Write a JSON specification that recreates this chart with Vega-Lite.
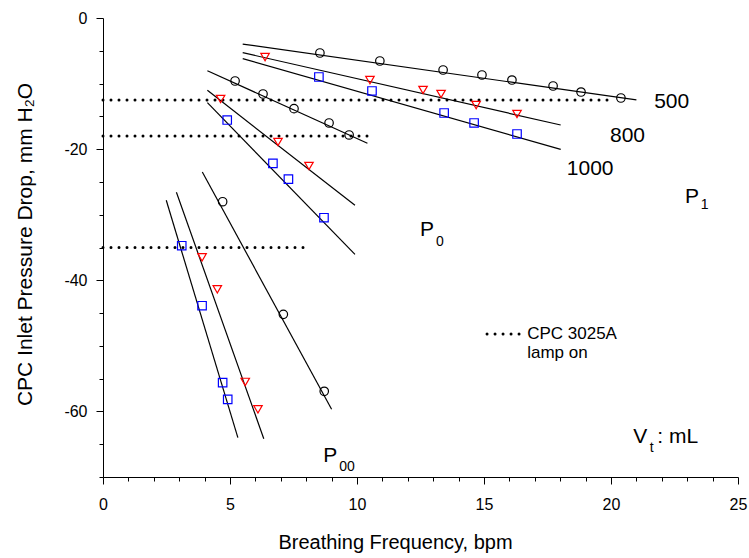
{
  "$schema": "https://vega.github.io/schema/vega-lite/v6.json",
  "width": 635,
  "height": 459,
  "autosize": {"type": "none"},
  "padding": {"left": 103, "top": 18, "right": 11, "bottom": 81},
  "background": "white",
  "config": {
    "view": {"stroke": null},
    "font": "Liberation Sans, Arial, Helvetica, sans-serif",
    "axis": {
      "grid": false,
      "domainColor": "black",
      "domainWidth": 1,
      "tickColor": "black",
      "tickWidth": 1,
      "labelColor": "black",
      "labelFontSize": 16,
      "labelOverlap": false,
      "labelFlush": false,
      "labelBound": false,
      "titleColor": "black",
      "titleFontSize": 21,
      "titleFontWeight": "normal"
    }
  },
  "datasets": {
    "fits": [
      {"grp": "P1_500", "x": 5.5, "y": -3.97}, {"grp": "P1_500", "x": 21.0, "y": -12.5},
      {"grp": "P1_800", "x": 5.5, "y": -5.29}, {"grp": "P1_800", "x": 18.02, "y": -16.32},
      {"grp": "P1_1000", "x": 5.5, "y": -6.2}, {"grp": "P1_1000", "x": 18.02, "y": -20.03},
      {"grp": "P0_500", "x": 4.11, "y": -8.04}, {"grp": "P0_500", "x": 10.41, "y": -19.1},
      {"grp": "P0_800", "x": 4.11, "y": -11.03}, {"grp": "P0_800", "x": 9.92, "y": -28.57},
      {"grp": "P0_1000", "x": 4.11, "y": -12.91}, {"grp": "P0_1000", "x": 9.92, "y": -36.04},
      {"grp": "P00_500", "x": 3.91, "y": -23.49}, {"grp": "P00_500", "x": 9.0, "y": -59.68},
      {"grp": "P00_800", "x": 2.89, "y": -26.58}, {"grp": "P00_800", "x": 6.33, "y": -64.16},
      {"grp": "P00_1000", "x": 2.49, "y": -27.8}, {"grp": "P00_1000", "x": 5.31, "y": -64.0}
    ],
    "dots": [
      {"grp": "d1", "x": 0, "y": -12.5}, {"grp": "d1", "x": 20.0, "y": -12.5},
      {"grp": "d2", "x": 0, "y": -18.0}, {"grp": "d2", "x": 10.7, "y": -18.0},
      {"grp": "d3", "x": 0, "y": -35.0}, {"grp": "d3", "x": 7.9, "y": -35.0},
      {"grp": "legend", "x": 15.12, "y": -48.2}, {"grp": "legend", "x": 16.46, "y": -48.2}
    ],
    "points": [
      {"Vt": "500", "x": 8.54, "y": -5.34}, {"Vt": "500", "x": 10.9, "y": -6.56},
      {"Vt": "500", "x": 13.39, "y": -7.93}, {"Vt": "500", "x": 14.92, "y": -8.69},
      {"Vt": "500", "x": 16.1, "y": -9.46}, {"Vt": "500", "x": 17.72, "y": -10.37},
      {"Vt": "500", "x": 18.82, "y": -11.29}, {"Vt": "500", "x": 20.39, "y": -12.2},
      {"Vt": "500", "x": 5.2, "y": -9.61}, {"Vt": "500", "x": 6.3, "y": -11.59},
      {"Vt": "500", "x": 7.52, "y": -13.83}, {"Vt": "500", "x": 8.9, "y": -16.01},
      {"Vt": "500", "x": 9.69, "y": -17.84},
      {"Vt": "500", "x": 4.71, "y": -28.02}, {"Vt": "500", "x": 7.1, "y": -45.19},
      {"Vt": "500", "x": 8.71, "y": -56.93},
      {"Vt": "800", "x": 6.38, "y": -5.95}, {"Vt": "800", "x": 10.51, "y": -9.46},
      {"Vt": "800", "x": 12.6, "y": -10.98}, {"Vt": "800", "x": 13.31, "y": -11.59},
      {"Vt": "800", "x": 14.69, "y": -13.27}, {"Vt": "800", "x": 16.3, "y": -14.64},
      {"Vt": "800", "x": 4.63, "y": -12.35}, {"Vt": "800", "x": 6.89, "y": -18.91},
      {"Vt": "800", "x": 8.11, "y": -22.57},
      {"Vt": "800", "x": 3.9, "y": -36.5}, {"Vt": "800", "x": 4.5, "y": -41.38},
      {"Vt": "800", "x": 5.6, "y": -55.5}, {"Vt": "800", "x": 6.1, "y": -59.67},
      {"Vt": "1000", "x": 8.5, "y": -9.0}, {"Vt": "1000", "x": 10.59, "y": -11.13},
      {"Vt": "1000", "x": 13.43, "y": -14.49}, {"Vt": "1000", "x": 14.61, "y": -16.01},
      {"Vt": "1000", "x": 16.3, "y": -17.69},
      {"Vt": "1000", "x": 4.89, "y": -15.56}, {"Vt": "1000", "x": 6.69, "y": -22.16},
      {"Vt": "1000", "x": 7.3, "y": -24.58}, {"Vt": "1000", "x": 8.7, "y": -30.46},
      {"Vt": "1000", "x": 3.1, "y": -34.73}, {"Vt": "1000", "x": 3.9, "y": -43.88},
      {"Vt": "1000", "x": 4.71, "y": -55.62}, {"Vt": "1000", "x": 4.91, "y": -58.15}
    ],
    "labels": [
      {"kind": "big", "text": "500", "x": 21.7, "y": -12.76},
      {"kind": "big", "text": "800", "x": 19.96, "y": -18.0},
      {"kind": "big", "text": "1000", "x": 18.26, "y": -23.08},
      {"kind": "big", "text": "P", "x": 22.91, "y": -27.25},
      {"kind": "sub", "text": "1", "x": 23.53, "y": -28.52},
      {"kind": "big", "text": "P", "x": 12.48, "y": -32.33},
      {"kind": "sub", "text": "0", "x": 13.11, "y": -34.1},
      {"kind": "big", "text": "P", "x": 8.67, "y": -66.75},
      {"kind": "sub", "text": "00", "x": 9.3, "y": -68.43},
      {"kind": "big", "text": "V", "x": 20.88, "y": -63.85},
      {"kind": "sub", "text": "t", "x": 21.53, "y": -65.6},
      {"kind": "big", "text": ": mL", "x": 21.82, "y": -63.85},
      {"kind": "legend", "text": "CPC 3025A", "x": 16.7, "y": -48.2},
      {"kind": "legend", "text": "lamp on", "x": 16.7, "y": -51.1}
    ]
  },
  "encoding": {
    "x": {
      "field": "x",
      "type": "quantitative",
      "scale": {"domain": [0, 25], "nice": false, "zero": false},
      "axis": {
        "values": [0,1,2,3,4,5,6,7,8,9,10,11,12,13,14,15,16,17,18,19,20,21,22,23,24,25],
        "labelExpr": "datum.value % 5 === 0 ? '' + datum.value : ''",
        "tickSize": {"condition": {"test": "datum.value % 5 === 0", "value": 7}, "value": 4},
        "labelPadding": 12,
        "title": "Breathing Frequency, bpm",
        "titleFontSize": 20,
        "titleAlign": "center",
        "titleBaseline": "middle",
        "titleX": 292,
        "titleY": 65
      }
    },
    "y": {
      "field": "y",
      "type": "quantitative",
      "scale": {"domain": [-70, 0], "nice": false, "zero": false},
      "axis": {
        "values": [0,-5,-10,-15,-20,-25,-30,-35,-40,-45,-50,-55,-60,-65,-70],
        "labelExpr": "datum.value % 20 === 0 ? '' + datum.value : ''",
        "tickSize": {"condition": {"test": "datum.value % 20 === 0", "value": 7}, "value": 4},
        "labelPadding": 9,
        "title": "CPC Inlet Pressure Drop, mm H₂O",
        "titleAngle": -90,
        "titleAlign": "center",
        "titleBaseline": "middle",
        "titleX": -78,
        "titleY": 226
      }
    }
  },
  "layer": [
    {
      "data": {"name": "fits"},
      "mark": {"type": "line", "color": "black", "strokeWidth": 1.2},
      "encoding": {"detail": {"field": "grp", "type": "nominal"}}
    },
    {
      "data": {"name": "dots"},
      "mark": {"type": "line", "color": "black", "strokeWidth": 3, "strokeDash": [0, 8], "strokeCap": "round"},
      "encoding": {"detail": {"field": "grp", "type": "nominal"}}
    },
    {
      "data": {"name": "points"},
      "mark": {"type": "point", "filled": false, "size": 72, "strokeWidth": 1.2, "opacity": 1},
      "encoding": {
        "shape": {"field": "Vt", "type": "nominal", "scale": {"domain": ["500", "800", "1000"], "range": ["circle", "triangle-down", "square"]}, "legend": null},
        "color": {"field": "Vt", "type": "nominal", "scale": {"domain": ["500", "800", "1000"], "range": ["black", "#ff0000", "#0000ff"]}, "legend": null}
      }
    },
    {
      "data": {"name": "labels"},
      "transform": [{"filter": "datum.kind === 'big'"}],
      "mark": {"type": "text", "align": "left", "baseline": "middle", "fontSize": 21, "color": "black"},
      "encoding": {"text": {"field": "text", "type": "nominal"}}
    },
    {
      "data": {"name": "labels"},
      "transform": [{"filter": "datum.kind === 'sub'"}],
      "mark": {"type": "text", "align": "left", "baseline": "middle", "fontSize": 14, "color": "black"},
      "encoding": {"text": {"field": "text", "type": "nominal"}}
    },
    {
      "data": {"name": "labels"},
      "transform": [{"filter": "datum.kind === 'legend'"}],
      "mark": {"type": "text", "align": "left", "baseline": "middle", "fontSize": 17, "color": "black"},
      "encoding": {"text": {"field": "text", "type": "nominal"}}
    },
    {
      "data": {"values": [{}]},
      "mark": {"type": "rule", "color": "black", "strokeWidth": 1},
      "encoding": {"x": {"datum": 25}, "y": {"datum": 0}, "y2": {"datum": -70}}
    }
  ]
}
